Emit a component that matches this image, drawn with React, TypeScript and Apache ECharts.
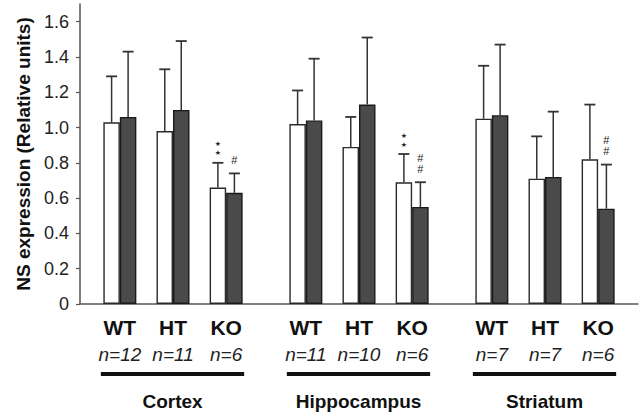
import React, { useEffect, useRef } from 'react';
import * as echarts from 'echarts';

// ---- data ----
const regions = ['Cortex', 'Hippocampus', 'Striatum'];
const genotypes = ['WT', 'HT', 'KO'];
const sampleSizes = ['n=12', 'n=11', 'n=6', 'n=11', 'n=10', 'n=6', 'n=7', 'n=7', 'n=6'];
const openMeans = [1.03, 0.98, 0.66, 1.02, 0.89, 0.69, 1.05, 0.71, 0.82];
const openSD = [0.26, 0.35, 0.14, 0.19, 0.17, 0.16, 0.3, 0.24, 0.31];
const filledMeans = [1.06, 1.1, 0.63, 1.04, 1.13, 0.55, 1.07, 0.72, 0.54];
const filledSD = [0.37, 0.39, 0.11, 0.35, 0.38, 0.14, 0.4, 0.37, 0.25];
const openMarks = ['', '', '★\n★', '', '', '★\n★', '', '', ''];
const filledMarks = ['', '', '#', '', '', '#\n#', '', '', '#\n#'];
const yTicks = [0, 0.2, 0.4, 0.6, 0.8, 1.0, 1.2, 1.4, 1.6];
const yMax = 1.7;
const yTitle = 'NS expression (Relative units)';

// ---- style constants ----
const FONT = '"Liberation Sans", Arial, Helvetica, sans-serif';
const BAR_W = 16.5;
const CAP_W = 11;
const AXIS_COLOR = '#555';
const TEXT_COLOR = '#111';

// build category slots (half-width spacing, with spacers between groups)
const slots: string[] = [];
const slotLabel: Record<string, string> = {};
const barSlots: number[] = [];
const regionSlots: [number, number][] = [];
slots.push('pad-l');
regions.forEach((r, ri) => {
  if (ri > 0) {
    slots.push(`gap-${ri}-a`);
    slots.push(`gap-${ri}-b`);
  }
  const first = slots.length;
  genotypes.forEach((g, gi) => {
    if (gi > 0) slots.push(`sp-${ri}-${gi}`);
    const key = `${r}-${g}`;
    const idx = ri * genotypes.length + gi;
    slotLabel[key] = `{g|${g}}\n{n|${sampleSizes[idx]}}`;
    barSlots.push(slots.length);
    slots.push(key);
  });
  regionSlots.push([first, slots.length - 1]);
});
slots.push('pad-r');

function barData(values: number[]) {
  const arr: (number | null)[] = slots.map(() => null);
  barSlots.forEach((s, i) => {
    arr[s] = values[i];
  });
  return arr;
}

function errorSeries(means: number[], sds: number[], marks: string[], side: number, isStar: boolean) {
  return {
    type: 'custom',
    coordinateSystem: 'cartesian2d',
    encode: { x: 0, y: 1 },
    z: 5,
    clip: false,
    data: barSlots.map((s, i) => [s, means[i], sds[i]]),
    renderItem: (params: any, api: any) => {
      const x = api.value(0);
      const m = api.value(1);
      const sd = api.value(2);
      const base = api.coord([x, m]);
      const top = api.coord([x, m + sd]);
      const cx = base[0] + (side * BAR_W) / 2;
      const children: any[] = [
        {
          type: 'line',
          shape: { x1: cx, y1: base[1], x2: cx, y2: top[1] },
          style: { stroke: '#333', lineWidth: 1.5 },
        },
        {
          type: 'line',
          shape: { x1: cx - CAP_W / 2, y1: top[1], x2: cx + CAP_W / 2, y2: top[1] },
          style: { stroke: '#333', lineWidth: 1.8 },
        },
      ];
      const mark = marks[params.dataIndex];
      if (mark) {
        children.push({
          type: 'text',
          x: cx,
          y: isStar ? top[1] - 5 : top[1] - 8,
          style: {
            text: mark,
            fontFamily: isStar ? '"DejaVu Sans", sans-serif' : FONT,
            fontSize: isStar ? 7 : 11,
            lineHeight: isStar ? 9 : 11,
            fill: '#222',
            align: 'center',
            verticalAlign: 'bottom',
          },
        });
      }
      return { type: 'group', children };
    },
  };
}

export default function App() {
  const ref = useRef<HTMLDivElement>(null);
  useEffect(() => {
    if (!ref.current) return;
    const chart = echarts.init(ref.current, undefined, { renderer: 'svg' });
    const option: any = {
      animation: false,
      backgroundColor: '#fff',
      textStyle: { fontFamily: FONT },
      grid: { left: 80, right: 1, top: 4, bottom: 110, containLabel: false },
      xAxis: {
        type: 'category',
        data: slots,
        boundaryGap: true,
        axisLine: { lineStyle: { color: AXIS_COLOR, width: 1.5 } },
        axisTick: { show: false },
        splitLine: { show: false },
        axisLabel: {
          interval: 0,
          margin: 8,
          formatter: (v: string) => slotLabel[v] || '',
          rich: {
            g: { fontFamily: FONT, fontSize: 21, fontWeight: 'bold', color: TEXT_COLOR, lineHeight: 31 },
            n: { fontFamily: FONT, fontSize: 19, fontStyle: 'italic', color: '#222', lineHeight: 22 },
          },
        },
      },
      yAxis: {
        type: 'value',
        min: 0,
        max: yMax,
        interval: 0.2,
        name: yTitle,
        nameLocation: 'middle',
        nameRotate: 90,
        nameGap: 44,
        nameTextStyle: { fontFamily: FONT, fontSize: 19, fontWeight: 'bold', color: TEXT_COLOR },
        axisLine: { show: true, lineStyle: { color: AXIS_COLOR, width: 1.5 } },
        axisTick: { show: true, inside: false, length: 4, lineStyle: { color: AXIS_COLOR, width: 1.2 }, customValues: yTicks },
        splitLine: { show: false },
        axisLabel: {
          customValues: yTicks,
          margin: 11,
          fontFamily: FONT,
          fontSize: 18,
          color: '#222',
          formatter: (v: number) => (v === 0 ? '0' : v.toFixed(1)),
        },
      },
      series: [
        {
          name: 'Open bars',
          type: 'bar',
          data: barData(openMeans),
          barWidth: BAR_W,
          barGap: '0%',
          itemStyle: { color: '#ffffff', borderColor: '#2a2a2a', borderWidth: 1.4 },
        },
        {
          name: 'Filled bars',
          type: 'bar',
          data: barData(filledMeans),
          barWidth: BAR_W,
          barGap: '0%',
          itemStyle: { color: '#4a4a4a', borderColor: '#1a1a1a', borderWidth: 1.4 },
        },
        errorSeries(openMeans, openSD, openMarks, -1, true),
        errorSeries(filledMeans, filledSD, filledMarks, 1, false),
        {
          type: 'custom',
          coordinateSystem: 'cartesian2d',
          encode: { x: 0, y: 1 },
          clip: false,
          data: regionSlots.map(([a, b]) => [a, 0, b]),
          renderItem: (params: any, api: any) => {
            const p0 = api.coord([api.value(0), 0]);
            const p1 = api.coord([api.value(2), 0]);
            const x1 = p0[0] - 19;
            const x2 = p1[0] + 18;
            return {
              type: 'group',
              children: [
                {
                  type: 'line',
                  shape: { x1, y1: p0[1] + 70, x2, y2: p0[1] + 70 },
                  style: { stroke: '#111', lineWidth: 4 },
                },
                {
                  type: 'text',
                  x: (x1 + x2) / 2,
                  y: p0[1] + 97,
                  style: {
                    text: regions[params.dataIndex],
                    fontFamily: FONT,
                    fontSize: 19,
                    fontWeight: 'bold',
                    fill: TEXT_COLOR,
                    align: 'center',
                    verticalAlign: 'middle',
                  },
                },
              ],
            };
          },
        },
      ],
    };
    chart.setOption(option);
    return () => chart.dispose();
  }, []);
  return (
    <div
      ref={ref}
      style={{ position: 'fixed', left: 0, top: 0, width: 639, height: 414, background: '#fff' }}
    />
  );
}
